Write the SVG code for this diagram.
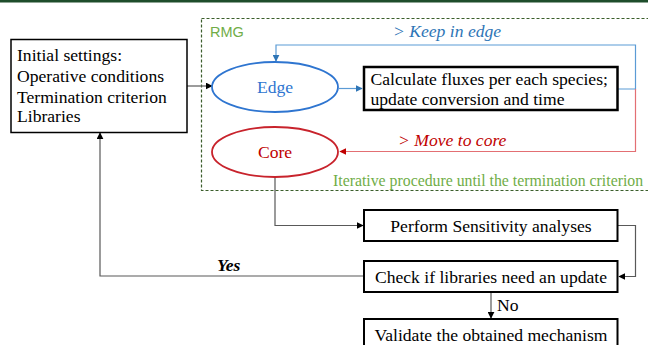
<svg xmlns="http://www.w3.org/2000/svg" width="648" height="345" viewBox="0 0 648 345">
  <style>
    .serif { font-family: "Liberation Serif", "Times New Roman", serif; font-size: 17.6px; }
    .note { font-family: "Liberation Serif", "Times New Roman", serif; font-size: 15.8px; fill: #70ad47; }
    .box { fill: #ffffff; stroke: #000000; stroke-width: 2; }
    .conn { fill: none; stroke: #595959; stroke-width: 1.2; }
    .blue { fill: none; stroke: #5b9bd5; stroke-width: 1.2; }
    .red { fill: none; stroke: #e36f73; stroke-width: 1.2; }
  </style>
  <defs>
    <marker id="ah" viewBox="0 0 10 10" refX="9" refY="5" markerWidth="7" markerHeight="7" markerUnits="userSpaceOnUse" orient="auto">
      <path d="M0,0 L10,5 L0,10 z" fill="#000000"/>
    </marker>
    <marker id="ahBlue" viewBox="0 0 10 10" refX="9" refY="5" markerWidth="7" markerHeight="7" markerUnits="userSpaceOnUse" orient="auto">
      <path d="M0,0 L10,5 L0,10 z" fill="#2e75b6"/>
    </marker>
    <marker id="ahRed" viewBox="0 0 10 10" refX="9" refY="5" markerWidth="7" markerHeight="7" markerUnits="userSpaceOnUse" orient="auto">
      <path d="M0,0 L10,5 L0,10 z" fill="#c00000"/>
    </marker>
  </defs>

  <rect width="648" height="345" fill="#ffffff"/>
  <!-- header rule -->
  <rect x="0" y="0" width="648" height="2.5" fill="#1e4d2b"/>

  <!-- RMG loop region -->
  <g id="rmg">
    <rect x="201.5" y="18.5" width="460" height="172" fill="none" stroke="#3b5e2b" stroke-width="1.2" stroke-dasharray="3,2"/>
    <text x="210" y="36.5" font-family="Liberation Sans, Arial, sans-serif" font-size="14.5" fill="#70ad47">RMG</text>
    <text x="333" y="186" class="note">Iterative procedure until the termination criterion</text>
  </g>

  <!-- connectors -->
  <g id="connectors">
    <path class="conn" d="M187,86 H212" marker-end="url(#ah)"/>
    <path class="blue" d="M339,88.5 H362" marker-end="url(#ahBlue)"/>
    <path class="blue" d="M617.5,89 H635.5 V45 H276 V61" marker-end="url(#ahBlue)"/>
    <path class="red" d="M635.5,89 V151.5 H340" marker-end="url(#ahRed)"/>
    <path class="conn" d="M275,177 V225.5 H363" marker-end="url(#ah)"/>
    <path class="conn" d="M618,225.5 H635.5 V276.5 H619" marker-end="url(#ah)"/>
    <path class="conn" d="M364,276 H100 V133" marker-end="url(#ah)"/>
    <path class="conn" d="M491,292 V318" marker-end="url(#ah)"/>
    <text x="393" y="37" class="serif" font-style="italic" fill="#2e75b6">&gt; Keep in edge</text>
    <text x="398" y="146" class="serif" font-style="italic" fill="#c00000">&gt; Move to core</text>
    <text x="217" y="271" class="serif" font-style="italic" font-weight="bold" fill="#000000">Yes</text>
    <text x="497" y="311" class="serif" fill="#000000">No</text>
  </g>

  <g id="initial">
    <rect x="11" y="39.5" width="176" height="93" fill="#ffffff" stroke="#000000" stroke-width="1.5"/>
    <text class="serif" x="17" y="61">Initial settings:</text>
    <text class="serif" x="17" y="81.5">Operative conditions</text>
    <text class="serif" x="17" y="102.5">Termination criterion</text>
    <text class="serif" x="17" y="122">Libraries</text>
  </g>

  <g id="edge">
    <ellipse cx="275" cy="87" rx="63" ry="25" fill="#ffffff" stroke="#2e75d0" stroke-width="1.8"/>
    <text class="serif" x="275" y="93" text-anchor="middle" fill="#2e75d0">Edge</text>
  </g>

  <g id="core">
    <ellipse cx="275" cy="152" rx="63" ry="25" fill="#ffffff" stroke="#c8232c" stroke-width="1.8"/>
    <text class="serif" x="275" y="158" text-anchor="middle" fill="#c00000">Core</text>
  </g>

  <g id="calculate">
    <rect x="364" y="67" width="253.5" height="43" fill="#ffffff" stroke="#000000" stroke-width="2.5"/>
    <text class="serif" x="370.5" y="84.5">Calculate fluxes per each species;</text>
    <text class="serif" x="370.5" y="104.5">update conversion and time</text>
  </g>

  <g id="sensitivity">
    <rect class="box" x="364" y="210" width="253.5" height="31"/>
    <text class="serif" x="491" y="231.5" text-anchor="middle">Perform Sensitivity analyses</text>
  </g>

  <g id="check">
    <rect class="box" x="364" y="261" width="253.5" height="31"/>
    <text class="serif" x="491" y="282.5" text-anchor="middle">Check if libraries need an update</text>
  </g>

  <g id="validate">
    <rect class="box" x="364" y="319" width="253.5" height="40"/>
    <text class="serif" x="491" y="340.5" text-anchor="middle">Validate the obtained mechanism</text>
  </g>
</svg>
